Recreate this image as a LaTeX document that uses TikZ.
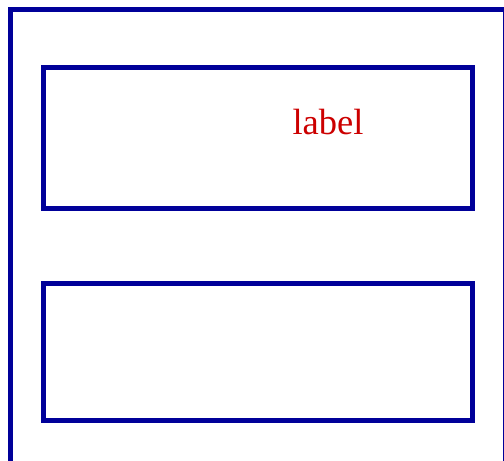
\documentclass[tikz,border=0pt]{standalone}
\usepackage{fontspec}
\setmainfont{Liberation Serif}
\definecolor{framblue}{RGB}{0,0,153}
\definecolor{labred}{RGB}{204,0,0}
\tikzset{
  boxline/.style={draw=framblue, line width=5pt},
  lab/.style={text=labred, font=\fontsize{36.5}{43}\selectfont, inner sep=0pt, anchor=base}
}
\begin{document}
\begin{tikzpicture}[x=1pt,y=-1pt]
\useasboundingbox (0,0) rectangle (504,461);
\begin{scope}
\clip (0,0) rectangle (504,461);
\draw[boxline] (10.5,9.8) rectangle (505.5,480);
\end{scope}
\node[boxline, outer sep=0pt, minimum width=428.5pt, minimum height=140.5pt, inner sep=0pt, anchor=north west] (top) at (43.5,67.5) {};
\node[boxline, outer sep=0pt, minimum width=428.5pt, minimum height=137pt, inner sep=0pt, anchor=north west] (bottom) at (43.5,283) {};
\node[lab] (label) at (328,134) {label};
\end{tikzpicture}
\end{document}
